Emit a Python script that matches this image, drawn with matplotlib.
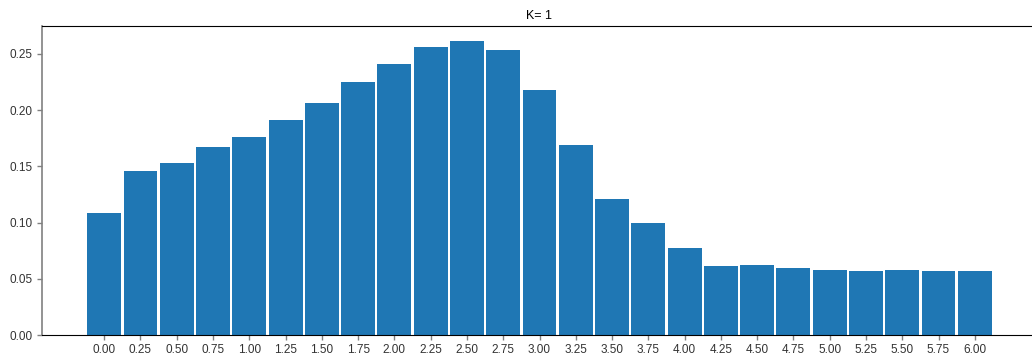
import matplotlib
matplotlib.use("Agg")
import matplotlib.pyplot as plt
import numpy as np

plt.rcParams['font.family'] = ['Liberation Sans', 'DejaVu Sans']

x_values = [0.00, 0.25, 0.50, 0.75, 1.00, 1.25, 1.50, 1.75, 2.00, 2.25, 2.50, 2.75,
            3.00, 3.25, 3.50, 3.75, 4.00, 4.25, 4.50, 4.75, 5.00, 5.25, 5.50, 5.75, 6.00]
heights = [0.1085, 0.1459, 0.1530, 0.1673, 0.1762, 0.1913, 0.2064, 0.2251, 0.2411,
           0.2562, 0.2616, 0.2536, 0.2180, 0.1690, 0.1210, 0.0996, 0.0774, 0.0614,
           0.0623, 0.0596, 0.0578, 0.0569, 0.0578, 0.0569, 0.0569]
tick_labels = [f"{v:.2f}" for v in x_values]
title = "K= 1"

fig = plt.figure(figsize=(10.32, 3.58), dpi=100)
ax = fig.add_axes([42/1032, 23/358, (1037-42)/1032, (335-26)/358])
ax.bar(x_values, heights, width=0.234, color='#1f77b4')
ax.set_xticks(x_values)
ax.set_xticklabels(tick_labels)
ax.set_yticks([0.0, 0.05, 0.10, 0.15, 0.20, 0.25])
ax.set_yticklabels(["0.00", "0.05", "0.10", "0.15", "0.20", "0.25"])
ax.tick_params(axis='both', labelsize=8.5, length=3.5, width=1, colors='#808080',
               labelcolor='#333333', pad=3)
ax.spines['right'].set_visible(False)
ax.spines['left'].set_color('#808080')
ax.spines['left'].set_linewidth(1.2)
ax.spines['top'].set_color('black')
ax.spines['bottom'].set_color('black')
ax.set_title(title, fontsize=9, pad=5)
fig.savefig("out.png", dpi=100)
